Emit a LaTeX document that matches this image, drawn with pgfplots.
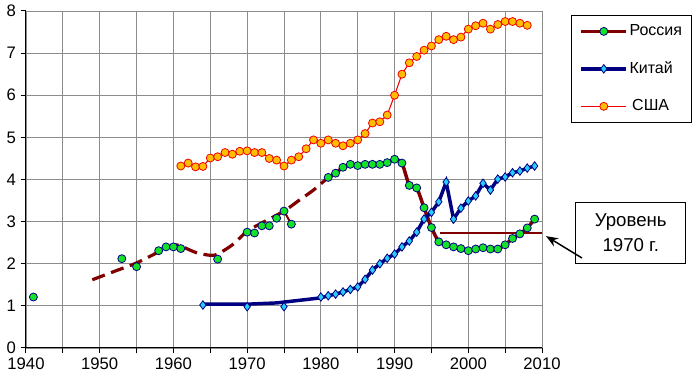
\documentclass[border=0pt]{standalone}
\usepackage{pgfplots}
\pgfplotsset{compat=1.18}
\usepackage{fontspec}
\setmainfont{Liberation Sans}
\usetikzlibrary{arrows.meta}
\definecolor{rusline}{RGB}{128,0,0}
\definecolor{rusfill}{RGB}{20,225,40}
\definecolor{navy}{RGB}{0,0,128}
\definecolor{chinafill}{RGB}{40,205,255}
\definecolor{usafill}{RGB}{255,190,0}
\definecolor{usaline}{RGB}{240,0,0}
\definecolor{gridc}{RGB}{140,140,140}
\begin{document}
\begin{tikzpicture}
\begin{axis}[name=ax, at={(0,0)}, anchor=south west,
  width=387pt, height=252.75pt, scale only axis,
  xmin=1940, xmax=2010, ymin=0, ymax=8,
  xtick={1940,1950,...,2010}, minor xtick={1945,1955,...,2005},
  ytick={0,1,...,8},
  grid=both, major grid style={gridc, line width=0.6pt}, minor grid style={gridc, line width=0.6pt},
  axis x line*=bottom, axis y line*=left,
  axis line style={black, line width=0.75pt},
  tick align=outside, tick style={black, line width=0.75pt},
  major tick length=4pt, minor tick length=4pt,
  x tick label style={/pgf/number format/1000 sep={}},
  /pgf/number format/assume math mode=true,
  tick label style={font=\fontsize{12.5}{14}\selectfont, black},
  clip mode=individual,
  legend style={at={(1.056,0.988)}, anchor=north west, draw=black, line width=0.75pt,
    inner sep=6pt, row sep=16pt, font=\fontsize{12}{14}\selectfont,
    nodes={inner sep=1pt, anchor=west}},
  legend cell align=left,
  legend image code/.code={\draw[mark repeat=2,mark phase=2,#1] plot coordinates {(0pt,0pt) (17pt,0pt) (34pt,0pt)};},
]
\addlegendimage{rusline, line width=2.6pt, mark=*, mark size=3pt, mark options={fill=rusfill, draw=navy, line width=0.6pt}}
\addlegendentry{Россия}
\addlegendimage{navy, line width=2.6pt, mark=diamond*, mark size=3.2pt, mark options={fill=chinafill, draw=navy, line width=0.6pt}}
\addlegendentry{Китай}
\addlegendimage{usaline, line width=0.8pt, mark=*, mark size=3pt, mark options={fill=usafill, draw=usaline, line width=0.6pt}}
\addlegendentry{\,США}

% Russia dashed trend
\addplot[forget plot, rusline, line width=2.4pt, dash pattern=on 10pt off 5pt, smooth] coordinates {
(1949,1.62)(1952,1.82)(1955,2.02)(1958,2.28)(1960,2.44)(1961,2.42)(1963,2.27)(1965,2.2)(1966,2.23)(1968,2.45)(1970,2.77)(1972,2.97)(1975,3.25)(1977,3.5)(1979,3.75)(1981,4.05)};
% Russia 1975-1976 segment
\addplot[forget plot, rusline, line width=1.5pt] coordinates {(1975,3.25)(1976,2.94)};
% 1970 level line
\addplot[forget plot, rusline, line width=0.8pt] coordinates {(1996.2,2.73)(2010,2.73)};
% Russia solid line
\addplot[forget plot, rusline, line width=2.6pt, smooth, tension=0.4, mark=*, mark size=3pt, mark options={fill=rusfill, draw=navy, line width=0.6pt, solid}] coordinates {
(1981,4.05)(1982,4.15)(1983,4.29)(1984,4.36)(1985,4.33)(1986,4.36)(1987,4.36)(1988,4.36)(1989,4.4)(1990,4.48)(1991,4.39)(1992,3.86)(1993,3.8)(1994,3.33)(1995,2.86)(1996,2.52)(1997,2.45)(1998,2.4)(1999,2.36)(2000,2.31)(2001,2.35)(2002,2.38)(2003,2.35)(2004,2.35)(2005,2.45)(2006,2.6)(2007,2.71)(2008,2.85)(2009,3.06)};
% Russia early markers
\addplot[forget plot, only marks, mark=*, mark size=3pt, mark options={fill=rusfill, draw=navy, line width=0.6pt}] coordinates {
(1941,1.21)(1953,2.12)(1955,1.93)(1958,2.31)(1959,2.4)(1960,2.4)(1961,2.36)(1966,2.11)(1970,2.75)(1971,2.73)(1972,2.9)(1973,2.9)(1974,3.08)(1975,3.25)(1976,2.94)};
% China line
\addplot[forget plot, navy, line width=2.6pt] coordinates {
(1964,1.04)(1970,1.04)(1974,1.07)(1980,1.19)(1981,1.24)(1982,1.28)(1983,1.33)(1984,1.39)(1985,1.45)(1986,1.63)(1987,1.85)(1988,2.0)(1989,2.13)(1990,2.23)(1991,2.4)(1992,2.54)(1993,2.75)(1994,3.06)(1995,3.22)(1996,3.47)(1997,3.94)(1998,3.06)(1999,3.32)(2000,3.49)(2001,3.61)(2002,3.91)(2003,3.75)(2004,4.01)(2005,4.06)(2006,4.16)(2007,4.2)(2008,4.27)(2009,4.32)};
% China markers
\addplot[forget plot, only marks, mark=diamond*, mark size=3.2pt, mark options={fill=chinafill, draw=navy, line width=0.6pt}] coordinates {
(1964,1.02)(1970,0.98)(1975,0.98)(1980,1.21)(1981,1.24)(1982,1.28)(1983,1.33)(1984,1.39)(1985,1.45)(1986,1.63)(1987,1.85)(1988,2.0)(1989,2.13)(1990,2.23)(1991,2.4)(1992,2.54)(1993,2.75)(1994,3.06)(1995,3.22)(1996,3.47)(1997,3.94)(1998,3.06)(1999,3.32)(2000,3.49)(2001,3.61)(2002,3.91)(2003,3.75)(2004,4.01)(2005,4.06)(2006,4.16)(2007,4.2)(2008,4.27)(2009,4.32)};
% USA
\addplot[forget plot, usaline, line width=0.8pt, mark=*, mark size=3pt, mark options={fill=usafill, draw=usaline, line width=0.6pt}] coordinates {
(1961,4.32)(1962,4.39)(1963,4.3)(1964,4.31)(1965,4.51)(1966,4.54)(1967,4.64)(1968,4.6)(1969,4.67)(1970,4.68)(1971,4.64)(1972,4.64)(1973,4.5)(1974,4.46)(1975,4.32)(1976,4.46)(1977,4.54)(1978,4.73)(1979,4.94)(1980,4.86)(1981,4.94)(1982,4.86)(1983,4.8)(1984,4.86)(1985,4.94)(1986,5.09)(1987,5.34)(1988,5.37)(1989,5.53)(1990,6.0)(1991,6.5)(1992,6.77)(1993,6.92)(1994,7.07)(1995,7.17)(1996,7.32)(1997,7.4)(1998,7.32)(1999,7.38)(2000,7.57)(2001,7.65)(2002,7.71)(2003,7.57)(2004,7.68)(2005,7.75)(2006,7.75)(2007,7.71)(2008,7.66)};

\node[draw=black, line width=0.75pt, fill=white, align=center, minimum width=82.5pt, minimum height=45.75pt, inner sep=2pt,
  font=\fontsize{14}{18.75}\selectfont] (note) at (rel axis cs:1.172,0.341) {Уровень\\1970 г.};
\draw[-{Stealth[length=9pt, width=7pt]}, line width=1.1pt, black] (rel axis cs:1.0775,0.267) -- (rel axis cs:1.0078,0.332);
\end{axis}
\pgfresetboundingbox
\path[use as bounding box] (-19.5pt,-27pt) rectangle (505.5pt,261pt);
\end{tikzpicture}
\end{document}
